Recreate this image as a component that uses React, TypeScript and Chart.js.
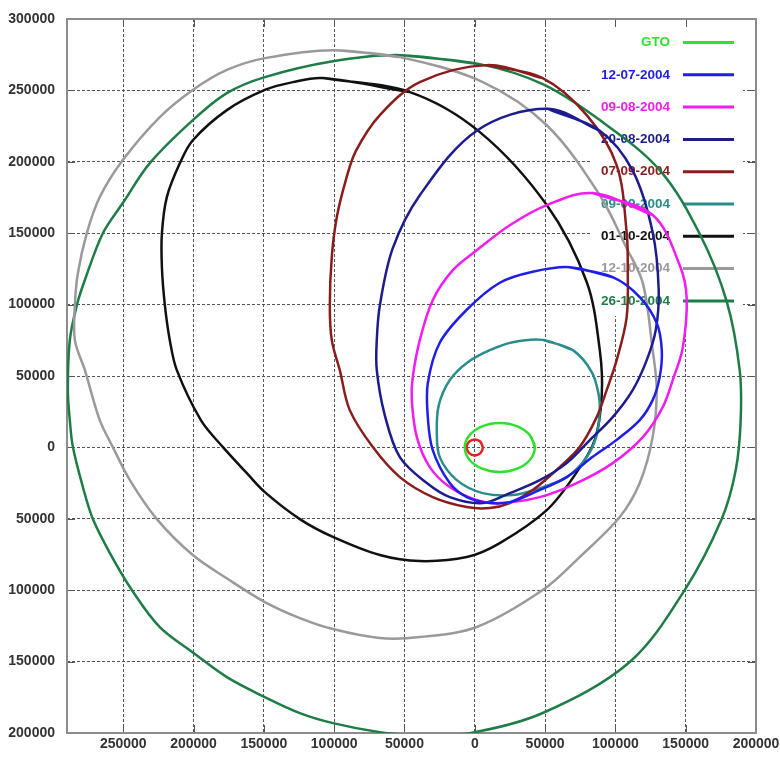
import React, { useEffect, useRef } from "react";
import { Chart, registerables } from "chart.js";

Chart.register(...registerables);

// ---- Data (km) ----
const seriesLabels = [
  "GTO",
  "12-07-2004",
  "09-08-2004",
  "20-08-2004",
  "07-09-2004",
  "09-09-2004",
  "01-10-2004",
  "12-10-2004",
  "26-10-2004",
];
const seriesColors = [
  "#2fe12f",
  "#1e1ee8",
  "#f01cf0",
  "#1c1c8f",
  "#8b1c1c",
  "#2a8c8c",
  "#111111",
  "#9a9a9a",
  "#1e7d46",
];
const earthColor = "#e62020";

const gtoX = [42700, 39300, 30200, 17800, 5300, -3800, -7100, -3800, 5300, 17800, 30200, 39300];
const gtoY = [0, 8400, 14700, 17000, 14700, 8400, 0, -8600, -14900, -17300, -14900, -8600];

const earthX = [5700, 4000, 0, -4000, -5700, -4000, 0, 4000];
const earthY = [0, 4000, 5600, 4000, 0, -4000, -5600, -4000];

const jul12X = [67500, 98100, 117300, 129400, 133000, 131500, 126500, 117300, 100700, 83600, 65400, 41200, 24900, 10700, -5700, -17800, -29900, -33400, -33400, -24900, -5700, 17800, 41200];
const jul12Y = [126200, 119200, 105300, 87100, 68100, 49200, 33100, 19100, 5100, -6800, -20800, -32000, -38300, -39000, -34800, -25000, -1900, 21200, 45000, 73300, 96400, 115300, 123000];

const aug09X = [83900, 126500, 145700, 150700, 147900, 141500, 133700, 119500, 98100, 72500, 46200, 17800, 1400, -17800, -32000, -41200, -44800, -44100, -39100, -29900, -15600, 1400, 24900, 51200];
const aug09Y = [178100, 162700, 127700, 104500, 69600, 49200, 28200, 7200, -11000, -25000, -34800, -39000, -36900, -27800, -13800, 7200, 33100, 49200, 75100, 103100, 124100, 138100, 155600, 169700];

const aug20X = [51200, 88900, 112300, 126500, 130800, 128700, 122300, 112300, 98100, 81800, 65400, 46200, 24900, 5700, -17800, -34100, -53300, -64000, -69700, -69700, -67500, -58300, -39100, 1400];
const aug20Y = [237200, 221800, 193800, 150700, 110200, 82100, 61100, 40100, 21200, 5100, -11000, -22900, -32000, -39000, -34800, -25000, -6800, 22600, 54100, 75100, 99600, 139500, 176600, 221800];

const sep07X = [8500, 48300, 79600, 100900, 108000, 108800, 108000, 100900, 93800, 86700, 74600, 60400, 41200, 24900, 10700, -5700, -29900, -53300, -72500, -88900, -96000, -101700, -103100, -101700, -98100, -91700, -84600, -67500, -39100];
const sep07Y = [267700, 258600, 232700, 197700, 150700, 124100, 91100, 61100, 40100, 21200, 200, -13800, -29900, -39000, -42500, -41800, -34800, -20800, 200, 26100, 54100, 75100, 99600, 133300, 161300, 187200, 207500, 232700, 255800];

const sep09X = [48300, 69700, 83200, 88200, 88900, 86700, 79600, 65400, 46200, 27000, 5700, -12800, -24900, -27000, -25600, -17800, -5000, 10700, 27000];
const sep09Y = [75300, 68100, 52800, 36600, 26100, 8600, -6800, -20800, -28500, -33400, -32000, -22900, -6800, 10700, 29600, 47100, 59700, 68100, 73700];

const oct01X = [-108100, -46200, 3600, 51200, 79600, 88900, 90300, 85300, 71100, 51200, 17800, -5700, -39100, -67500, -100900, -124400, -149300, -162100, -179100, -194800, -211900, -216900, -220400, -222500, -222500, -219000, -209700, -200500, -176300, -149300, -129400];
const oct01Y = [258600, 248800, 220800, 169700, 115800, 68100, 36600, 5100, -19400, -43900, -67000, -76800, -79600, -75400, -62700, -50200, -31300, -18000, 200, 19100, 54100, 75100, 99600, 126000, 150000, 175300, 199100, 215100, 236200, 250300, 255800];

const oct12X = [-100900, -53300, 5700, 51200, 88900, 108000, 119500, 126500, 129400, 126500, 117300, 103100, 74600, 48300, 1400, -39100, -67500, -100900, -124400, -149300, -175600, -200500, -226100, -245300, -257400, -266700, -277300, -284400, -284400, -282300, -275900, -266700, -250300, -224000, -200500, -176300, -149300];
const oct12Y = [278200, 273300, 255800, 225600, 176600, 139500, 115000, 68100, 40100, 7200, -25000, -48800, -76800, -99900, -125800, -132800, -133500, -127200, -119500, -108300, -92200, -75400, -50200, -22900, 200, 19100, 54100, 75100, 99600, 121800, 150000, 175300, 201200, 231300, 250300, 264300, 272600];

const oct26X = [-53300, 3600, 48300, 88900, 131500, 160000, 179200, 188400, 189100, 185600, 175600, 149300, 110200, 48300, -3600, -39100, -67500, -100900, -124400, -149300, -176300, -199800, -224000, -243900, -259500, -271600, -278700, -285800, -288000, -289400, -288000, -283000, -277300, -264500, -250300, -231100, -200500, -176300, -149300, -100900];
const oct26Y = [274700, 268400, 254400, 229200, 194200, 149400, 102100, 54100, 19100, -15900, -50200, -99900, -150300, -186000, -200100, -201700, -199400, -193100, -186100, -174900, -160900, -144100, -125900, -99900, -74000, -50200, -27800, 200, 19100, 40200, 75100, 99600, 117200, 150000, 171100, 199100, 229200, 248100, 259300, 270400];

const xTickValues = [-250000, -200000, -150000, -100000, -50000, 0, 50000, 100000, 150000, 200000];
const yTickValues = [-200000, -150000, -100000, -50000, 0, 50000, 100000, 150000, 200000, 250000, 300000];

const xRange = [-290000, 200000];
const yRange = [-200000, 300000];

const seriesXs = [gtoX, jul12X, aug09X, aug20X, sep07X, sep09X, oct01X, oct12X, oct26X];
const seriesYs = [gtoY, jul12Y, aug09Y, aug20Y, sep07Y, sep09Y, oct01Y, oct12Y, oct26Y];

const FONT_FAMILY = "'Liberation Sans Narrow', 'Liberation Sans', Arial, sans-serif";

function closedLoop(xs: number[], ys: number[]) {
  const pts = xs.map((x, i) => ({ x, y: ys[i] }));
  return [...pts, pts[0], pts[1]];
}

const decorPlugin = {
  id: "decor",
  beforeDatasetsDraw(chart: any) {
    const { ctx, chartArea, scales } = chart;
    const { left, right, top, bottom } = chartArea;
    const xs = scales.x;
    const ys = scales.y;
    ctx.save();
    // opaque legend box
    ctx.fillStyle = "#ffffff";
    ctx.fillRect(right - 164, top + 1, 151, 296);
    // inner tick marks on all sides
    ctx.strokeStyle = "#555555";
    ctx.lineWidth = 1;
    ctx.setLineDash([]);
    ctx.beginPath();
    xTickValues.forEach((v) => {
      const px = Math.round(xs.getPixelForValue(v)) + 0.5;
      ctx.moveTo(px, bottom);
      ctx.lineTo(px, bottom - 8);
      ctx.moveTo(px, top);
      ctx.lineTo(px, top + 8);
    });
    yTickValues.forEach((v) => {
      const py = Math.round(ys.getPixelForValue(v)) + 0.5;
      ctx.moveTo(left, py);
      ctx.lineTo(left + 8, py);
      ctx.moveTo(right, py);
      ctx.lineTo(right - 8, py);
    });
    ctx.stroke();
    // frame
    ctx.strokeStyle = "#8c8c8c";
    ctx.lineWidth = 2;
    ctx.strokeRect(left, top, right - left, bottom - top);
    // legend
    ctx.font = `bold 13.5px ${FONT_FAMILY}`;
    ctx.textAlign = "right";
    ctx.textBaseline = "middle";
    seriesLabels.forEach((lab, i) => {
      const yy = top + 23.5 + i * 32.3;
      ctx.fillStyle = seriesColors[i];
      ctx.fillText(lab, right - 86, yy);
      ctx.strokeStyle = seriesColors[i];
      ctx.lineWidth = 3;
      ctx.beginPath();
      ctx.moveTo(right - 73, yy);
      ctx.lineTo(right - 22, yy);
      ctx.stroke();
    });
    ctx.restore();
  },
};

export default function App() {
  const canvasRef = useRef<HTMLCanvasElement>(null);

  useEffect(() => {
    if (!canvasRef.current) return;
    const datasets: any[] = seriesLabels.map((lab, i) => ({
      label: lab,
      data: closedLoop(seriesXs[i], seriesYs[i]),
      borderColor: seriesColors[i],
      backgroundColor: seriesColors[i],
      borderWidth: 2.5,
      showLine: true,
      pointRadius: 0,
      pointHoverRadius: 0,
      tension: 0.34,
      fill: false,
      capBezierPoints: false,
    }));
    datasets.push({
      label: "earth",
      data: closedLoop(earthX, earthY),
      borderColor: earthColor,
      backgroundColor: earthColor,
      borderWidth: 2.5,
      showLine: true,
      pointRadius: 0,
      tension: 0.37,
      fill: false,
      capBezierPoints: false,
    });

    const tickFont = { family: FONT_FAMILY, size: 14, weight: "bold" as const };

    const chart = new Chart(canvasRef.current, {
      type: "scatter",
      data: { datasets },
      plugins: [decorPlugin],
      options: {
        animation: false,
        responsive: false,
        layout: { padding: { left: 0, right: 24, top: 19, bottom: 0 } },
        plugins: { legend: { display: false }, tooltip: { enabled: false } },
        events: [],
        scales: {
          x: {
            type: "linear",
            min: xRange[0],
            max: xRange[1],
            afterBuildTicks: (s: any) => {
              s.ticks = xTickValues.map((v) => ({ value: v }));
            },
            afterFit: (s: any) => {
              s.height = 38;
              s.paddingLeft = 0;
              s.paddingRight = 0;
            },
            ticks: {
              font: tickFont,
              color: "#333333",
              padding: 3,
              maxRotation: 0,
              autoSkip: false,
              callback: (v: any) => String(Math.abs(Number(v))),
            },
            grid: { color: "#555555", lineWidth: 1, drawTicks: false },
            border: { display: false, dash: [3, 2] },
          },
          y: {
            type: "linear",
            min: yRange[0],
            max: yRange[1],
            afterBuildTicks: (s: any) => {
              s.ticks = yTickValues.map((v) => ({ value: v }));
            },
            afterFit: (s: any) => {
              s.width = 67;
              s.paddingTop = 0;
              s.paddingBottom = 0;
            },
            ticks: {
              font: tickFont,
              color: "#333333",
              padding: 12,
              autoSkip: false,
              callback: (v: any) => String(Math.abs(Number(v))),
            },
            grid: { color: "#555555", lineWidth: 1, drawTicks: false },
            border: { display: false, dash: [3, 2] },
          },
        },
      } as any,
    });
    return () => chart.destroy();
  }, []);

  return (
    <div style={{ position: "fixed", left: 0, top: 0, width: 780, height: 771, background: "#fff" }}>
      <canvas ref={canvasRef} width={780} height={771} style={{ display: "block" }} />
    </div>
  );
}
